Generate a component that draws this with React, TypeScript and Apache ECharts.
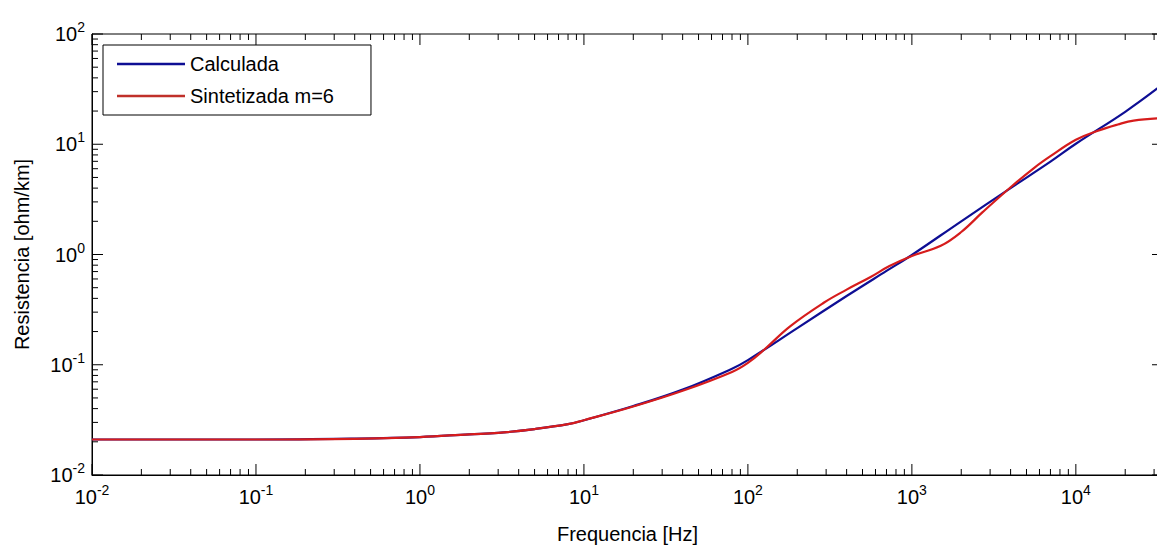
import React, { useEffect, useRef } from "react";
import * as echarts from "echarts";

// Frequency sweep (Hz) and per-unit-length resistance (ohm/km)
const freqCalculada = [0.01, 0.1, 0.4, 1, 2, 3, 5, 8, 10, 20, 40, 80, 100, 200, 400, 700, 1000, 2000, 4000, 7000, 10000, 20000, 34000];
const resCalculada = [0.021, 0.021, 0.0214, 0.0221, 0.0234, 0.0241, 0.0261, 0.0289, 0.0314, 0.0422, 0.0595, 0.092, 0.11, 0.215, 0.42, 0.71, 0.99, 2.0, 4.0, 6.95, 10.1, 19.7, 35.1];

const freqSintetizada = [0.01, 0.1, 0.4, 1, 2, 3, 5, 8, 10, 20, 40, 80, 100, 125, 180, 290, 400, 560, 730, 1000, 1500, 2000, 2700, 4100, 5600, 7000, 10000, 13500, 18000, 22500, 34000];
const resSintetizada = [0.021, 0.021, 0.0213, 0.0221, 0.0234, 0.0241, 0.0261, 0.0289, 0.0314, 0.0418, 0.058, 0.086, 0.104, 0.136, 0.222, 0.365, 0.48, 0.625, 0.785, 0.97, 1.2, 1.6, 2.42, 4.2, 6.15, 7.8, 11.0, 13.2, 15.1, 16.4, 17.3];

const seriesNames = ["Calculada", "Sintetizada m=6"];
const xName = "Frequencia [Hz]";
const yName = "Resistencia [ohm/km]";

const X_MIN = 0.01;
const X_MAX = 34000;
const Y_MIN = 0.01;
const Y_MAX = 100;

// decade exponents and in-decade multipliers used for the log tick marks
const xDecades = [-2, -1, 0, 1, 2, 3, 4];
const yDecades = [-2, -1, 0, 1, 2];
const multipliers = [1, 2, 3, 4, 5, 6, 7, 8, 9];

const FONT = "'Liberation Sans', Arial, Helvetica, sans-serif";

function tickValues(decades: number[], lo: number, hi: number): number[] {
  const out: number[] = [];
  for (const d of decades) {
    for (const m of multipliers) {
      const v = m * Math.pow(10, d);
      if (v >= lo * 0.999999 && v <= hi * 1.000001) out.push(v);
    }
  }
  return out;
}

function isDecade(v: number): boolean {
  const l = Math.log10(v);
  return Math.abs(l - Math.round(l)) < 1e-6;
}

function powLabel(v: number): string {
  if (!isDecade(v)) return "";
  return `{b|10}{s|${Math.round(Math.log10(v))}}`;
}

const richLabel = {
  b: { fontSize: 20, lineHeight: 20, color: "#000", fontFamily: FONT },
  s: { fontSize: 14, color: "#000", fontFamily: FONT, padding: [0, 0, 14, 0] },
};

export default function App() {
  const ref = useRef<HTMLDivElement>(null);

  useEffect(() => {
    if (!ref.current) return;
    const chart = echarts.init(ref.current, null, { renderer: "svg" });

    const xTicks = tickValues(xDecades, X_MIN, X_MAX).map((v) => [v, 1]);
    const yTicks = tickValues(yDecades, Y_MIN, Y_MAX).map((v) => [1, v]);

    const tickStyle = { stroke: "#000", lineWidth: 1 };

    chart.setOption({
      animation: false,
      backgroundColor: "#fff",
      textStyle: { fontFamily: FONT },
      grid: {
        left: 92,
        top: 34,
        width: 1071,
        height: 443,
        show: true,
        borderColor: "#000",
        borderWidth: 1,
        backgroundColor: "#fff",
      },
      legend: {
        data: seriesNames,
        orient: "vertical",
        left: 103,
        top: 45,
        padding: [7, 37, 7, 14],
        itemGap: 8,
        itemWidth: 68,
        itemHeight: 2.5,
        icon: "rect",
        borderColor: "#000",
        borderWidth: 1,
        backgroundColor: "#fff",
        textStyle: { fontSize: 20, lineHeight: 24, color: "#000", fontFamily: FONT },
      },
      xAxis: {
        type: "log",
        logBase: 10,
        min: X_MIN,
        max: X_MAX,
        name: xName,
        nameLocation: "middle",
        nameGap: 49,
        nameTextStyle: { fontSize: 20, color: "#000", fontFamily: FONT },
        axisLine: { show: true, lineStyle: { color: "#000", width: 1 } },
        axisTick: { show: false },
        splitLine: { show: false },
        minorTick: { show: false },
        axisLabel: {
          margin: 8,
          formatter: powLabel,
          rich: richLabel,
          showMaxLabel: false,
        },
      },
      yAxis: {
        type: "log",
        logBase: 10,
        min: Y_MIN,
        max: Y_MAX,
        name: yName,
        nameLocation: "middle",
        nameGap: 60,
        nameTextStyle: { fontSize: 20, color: "#000", fontFamily: FONT },
        axisLine: { show: true, lineStyle: { color: "#000", width: 1 } },
        axisTick: { show: false },
        splitLine: { show: false },
        axisLabel: {
          margin: 7,
          formatter: powLabel,
          rich: richLabel,
        },
      },
      series: [
        {
          // inward tick marks on the bottom and top edges
          type: "custom",
          silent: true,
          data: xTicks,
          encode: { x: 0, y: 1 },
          renderItem: (params: any, api: any) => {
            const v = api.value(0);
            const p = api.coord([v, 1]);
            const cs = params.coordSys;
            const len = isDecade(v) ? 11 : 6;
            const bottom = cs.y + cs.height;
            return {
              type: "group",
              children: [
                { type: "line", shape: { x1: p[0], y1: bottom, x2: p[0], y2: bottom - len }, style: tickStyle },
                { type: "line", shape: { x1: p[0], y1: cs.y, x2: p[0], y2: cs.y + len }, style: tickStyle },
              ],
            };
          },
        },
        {
          // inward tick marks on the left and right edges
          type: "custom",
          silent: true,
          data: yTicks,
          encode: { x: 0, y: 1 },
          renderItem: (params: any, api: any) => {
            const v = api.value(1);
            const p = api.coord([1, v]);
            const cs = params.coordSys;
            const len = isDecade(v) ? 11 : 6;
            const right = cs.x + cs.width;
            return {
              type: "group",
              children: [
                { type: "line", shape: { x1: cs.x, y1: p[1], x2: cs.x + len, y2: p[1] }, style: tickStyle },
                { type: "line", shape: { x1: right, y1: p[1], x2: right - len, y2: p[1] }, style: tickStyle },
              ],
            };
          },
        },
        {
          name: seriesNames[0],
          type: "line",
          data: freqCalculada.map((f, i) => [f, resCalculada[i]]),
          showSymbol: false,
          smooth: 0.4,
          lineStyle: { color: "#0e0e94", width: 2.2 },
          itemStyle: { color: "#0e0e94" },
        },
        {
          name: seriesNames[1],
          type: "line",
          data: freqSintetizada.map((f, i) => [f, resSintetizada[i]]),
          showSymbol: false,
          smooth: 0.4,
          lineStyle: { color: "#d61c1c", width: 2.2 },
          itemStyle: { color: "#c0302a" },
        },
      ],
    });

    return () => chart.dispose();
  }, []);

  return (
    <div style={{ position: "fixed", left: 0, top: 0, width: 1157, height: 549, overflow: "hidden", background: "#fff" }}>
      <div ref={ref} style={{ width: 1175, height: 549 }} />
    </div>
  );
}
